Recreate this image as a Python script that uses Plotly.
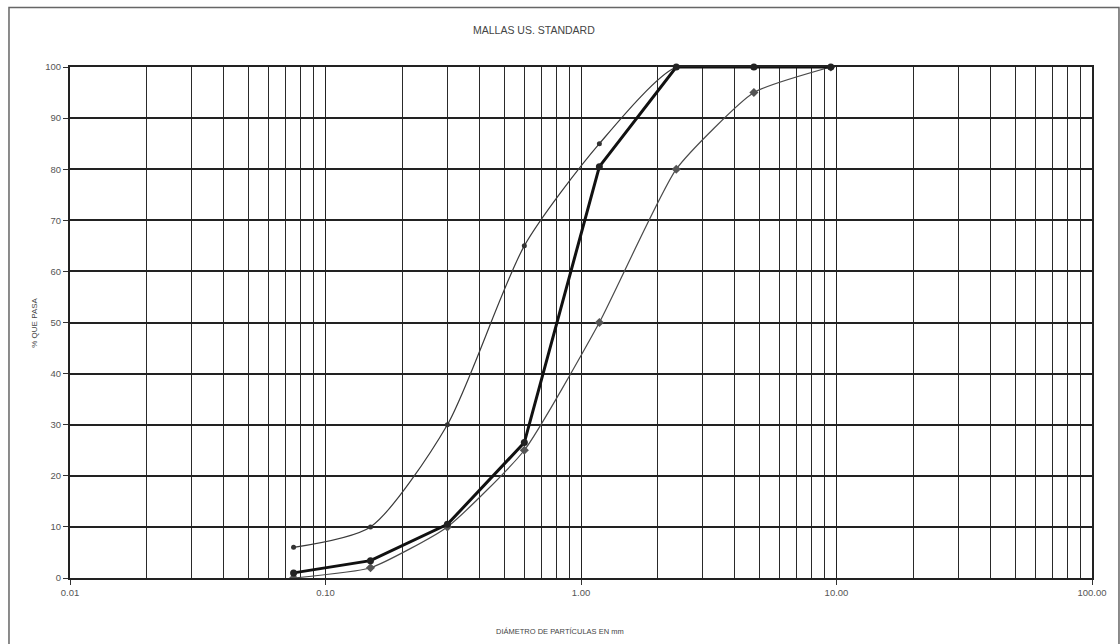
import plotly.graph_objects as go

sieve_mm = [0.075, 0.15, 0.30, 0.60, 1.18, 2.36, 4.75, 9.50]
upper_limit = [6, 10, 30, 65, 85, 100, 100, 100]
lower_limit = [0, 2, 10, 25, 50, 80, 95, 100]
sample = [1, 3.4, 10.5, 26.5, 80.5, 100, 100, 100]

x_tick_vals = [0.01, 0.1, 1, 10, 100]
x_tick_text = ["0.01", "0.10", "1.00", "10.00", "100.00"]
y_tick_vals = [0, 10, 20, 30, 40, 50, 60, 70, 80, 90, 100]

title_text = "MALLAS US. STANDARD"
x_title = "DIÁMETRO DE PARTÍCULAS EN mm"
y_title = "% QUE PASA"

fig = go.Figure()
fig.add_trace(go.Scatter(x=sieve_mm, y=upper_limit, mode="lines+markers",
                         line=dict(color="#3a3a3a", width=1.2, shape="spline", smoothing=0.7),
                         marker=dict(symbol="circle", size=5, color="#333"),
                         cliponaxis=True, showlegend=False))
fig.add_trace(go.Scatter(x=sieve_mm, y=lower_limit, mode="lines+markers",
                         line=dict(color="#4a4a4a", width=1.2, shape="spline", smoothing=0.5),
                         marker=dict(symbol="diamond", size=7, color="#555"),
                         cliponaxis=True, showlegend=False))
fig.add_trace(go.Scatter(x=sieve_mm, y=sample, mode="lines+markers",
                         line=dict(color="#111", width=3),
                         marker=dict(symbol="circle", size=7, color="#222"),
                         cliponaxis=False, showlegend=False))

fig.update_layout(
    width=1120, height=644,
    margin=dict(l=70, r=28, t=67, b=66),
    paper_bgcolor="white", plot_bgcolor="white",
    font=dict(family="Liberation Sans, Arial, sans-serif", size=9, color="#555"),
    xaxis=dict(type="log", range=[-2, 2], tickvals=x_tick_vals, ticktext=x_tick_text,
               showgrid=True, gridcolor="#222", gridwidth=1,
               ticks="outside", ticklen=5, tickcolor="#333",
               minor=dict(showgrid=True, dtick="D1", gridcolor="#2a2a2a", gridwidth=1, ticks=""),
               showline=True, linecolor="#222", linewidth=2, mirror=True,
               zeroline=False, tickfont=dict(size=9.5, color="#555")),
    yaxis=dict(range=[0, 100], tickvals=y_tick_vals, showgrid=True,
               gridcolor="#222", gridwidth=1.5,
               ticks="outside", ticklen=5, tickcolor="#333",
               showline=True, linecolor="#222", linewidth=2, mirror=True,
               zeroline=False, tickfont=dict(size=9.5, color="#555")),
    annotations=[
        dict(text=title_text, x=0.454, y=1.072, xref="paper", yref="paper",
             showarrow=False, font=dict(size=10.5, color="#444"), xanchor="center", yanchor="middle"),
        dict(text=x_title, x=0.479, y=-0.104, xref="paper", yref="paper",
             showarrow=False, font=dict(size=7.5, color="#444"), xanchor="center", yanchor="middle"),
        dict(text=y_title, x=-0.035, y=0.5, xref="paper", yref="paper", textangle=-90,
             showarrow=False, font=dict(size=8, color="#444"), xanchor="center", yanchor="middle"),
    ],
    shapes=[dict(type="rect", xref="paper", yref="paper", x0=-0.0597, x1=1.0264,
                 y0=-0.3, y1=1.1164, line=dict(color="#666", width=1.5), layer="below")],
)

fig.write_html("out.html")
